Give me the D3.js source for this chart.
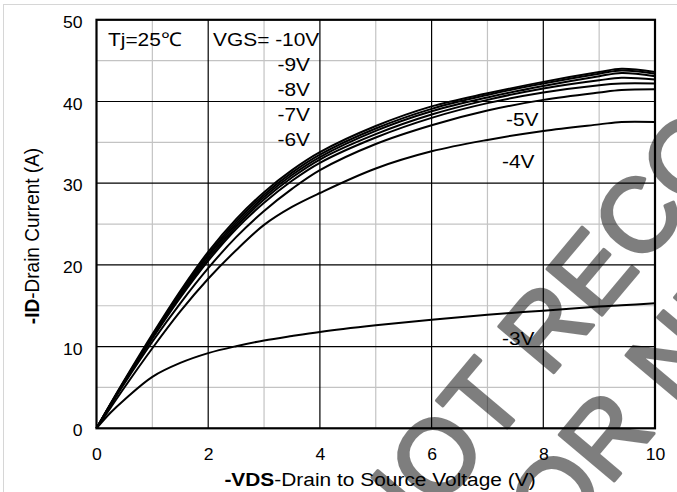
<!DOCTYPE html>
<html>
<head>
<meta charset="utf-8">
<script src="https://cdn.jsdelivr.net/npm/d3@7"></script>
<style>
  body { margin: 0; background: #fff; }
  svg { display: block; font-family: "Liberation Sans", Arial, sans-serif; }
</style>
</head>
<body>
<svg id="chart"></svg>
<script>
// -VDS sample points (V)
const vds = [0, 0.25, 0.5, 1, 1.5, 2, 2.5, 3, 3.5, 4, 5, 6, 7, 8, 9, 9.4, 10];

// -ID (A) for each gate voltage
const id10 = [0, 3.0, 5.9, 11.5, 16.8, 21.6, 25.6, 28.9, 31.6, 33.8, 37.0, 39.4, 41.0, 42.4, 43.6, 44.0, 43.6];
const id9  = [0, 2.95, 5.8, 11.3, 16.6, 21.3, 25.3, 28.6, 31.3, 33.5, 36.7, 39.1, 40.8, 42.2, 43.4, 43.8, 43.4];
const id8  = [0, 2.9, 5.8, 11.2, 16.4, 21.1, 25.0, 28.3, 31.0, 33.2, 36.4, 38.8, 40.5, 41.9, 43.1, 43.5, 43.1];
const id7  = [0, 2.9, 5.7, 11.1, 16.2, 20.8, 24.7, 28.0, 30.7, 32.9, 36.0, 38.4, 40.2, 41.6, 42.6, 42.9, 42.7];
const id6  = [0, 2.85, 5.7, 11.0, 16.0, 20.5, 24.4, 27.6, 30.3, 32.5, 35.6, 38.0, 39.8, 41.1, 42.0, 42.2, 42.2];
const id5  = [0, 2.8, 5.5, 10.6, 15.3, 19.6, 23.4, 26.6, 29.3, 31.6, 34.8, 37.1, 38.9, 40.2, 41.1, 41.4, 41.5];
const id4  = [0, 2.5, 5.0, 9.8, 14.3, 18.3, 21.8, 24.9, 27.1, 28.8, 31.8, 33.9, 35.3, 36.4, 37.2, 37.5, 37.5];
const id3  = [0, 1.9, 3.5, 6.3, 8.0, 9.2, 10.05, 10.75, 11.3, 11.8, 12.6, 13.3, 13.9, 14.4, 14.9, 15.05, 15.3];

const allSeries = [id10, id9, id8, id7, id6, id5, id4, id3];

const xTicks = [0, 2, 4, 6, 8, 10];
const yTicks = [0, 10, 20, 30, 40, 50];
const xMinor = [1, 3, 5, 7, 9];
const yMinor = [5, 15, 25, 35, 45];

const svgWidth = 677, svgHeight = 492;
const plotL = 96.5, plotR = 655, plotT = 19.8, plotB = 428.3;
const stretch = 1.1;   // the original picture is a bit wider than tall

const svg = d3.select("#chart")
    .attr("width", svgWidth)
    .attr("height", svgHeight);

// light border of the whole picture
svg.append("rect")
    .attr("x", 3.5).attr("y", 4.5)
    .attr("width", 700).attr("height", 500)
    .attr("fill", "none")
    .attr("stroke", "#d6d6d6");

const x = d3.scaleLinear().domain([0, 10]).range([plotL, plotR]);
const y = d3.scaleLinear().domain([0, 50]).range([plotB, plotT]);

// minor grid
svg.append("g").selectAll("line")
  .data(xMinor).enter().append("line")
    .attr("x1", d => x(d)).attr("x2", d => x(d))
    .attr("y1", plotT).attr("y2", plotB)
    .attr("stroke", "#c3c3c3").attr("stroke-width", 1.2);
svg.append("g").selectAll("line")
  .data(yMinor).enter().append("line")
    .attr("y1", d => y(d)).attr("y2", d => y(d))
    .attr("x1", plotL).attr("x2", plotR)
    .attr("stroke", "#c3c3c3").attr("stroke-width", 1.2);

// major grid
svg.append("g").selectAll("line")
  .data(xTicks.slice(1, -1)).enter().append("line")
    .attr("x1", d => x(d)).attr("x2", d => x(d))
    .attr("y1", plotT).attr("y2", plotB)
    .attr("stroke", "#000").attr("stroke-width", 1.2);
svg.append("g").selectAll("line")
  .data(yTicks.slice(1, -1)).enter().append("line")
    .attr("y1", d => y(d)).attr("y2", d => y(d))
    .attr("x1", plotL).attr("x2", plotR)
    .attr("stroke", "#000").attr("stroke-width", 1.2);

// curves
const line = d3.line()
    .x((d, i) => x(vds[i]))
    .y(d => y(d))
    .curve(d3.curveCatmullRom.alpha(0.5));

svg.append("g").selectAll("path")
  .data(allSeries).enter().append("path")
    .attr("d", d => line(d))
    .attr("fill", "none")
    .attr("stroke", "#000")
    .attr("stroke-width", 2);

// frame
svg.append("rect")
    .attr("x", plotL).attr("y", plotT)
    .attr("width", plotR - plotL).attr("height", plotB - plotT)
    .attr("fill", "none")
    .attr("stroke", "#000")
    .attr("stroke-width", 2.2);

// axes (labels only)
const xAxis = svg.append("g")
    .attr("transform", "translate(0," + plotB + ")")
    .call(d3.axisBottom(x).tickValues(xTicks).tickSize(0).tickPadding(20));
const yAxis = svg.append("g")
    .attr("transform", "translate(" + plotL + ",0)")
    .call(d3.axisLeft(y).tickValues(yTicks).tickSize(0).tickPadding(14));
[xAxis, yAxis].forEach(function(a) {
  a.select(".domain").remove();
  a.selectAll("text")
    .attr("font-family", "Liberation Sans, Arial, sans-serif")
    .attr("font-size", 16)
    .attr("fill", "#000")
    .attr("transform", "scale(" + stretch + ",1)");
});
xAxis.selectAll("text").attr("x", 0);
yAxis.selectAll("text").attr("dy", "0.48em").attr("x", -14 / stretch);

// helper for stretched text
function label(px, py, txt, anchor) {
  return svg.append("text")
    .attr("transform", "translate(" + px + "," + py + ") scale(" + stretch + ",1)")
    .attr("text-anchor", anchor || "start")
    .attr("font-size", 19)
    .attr("fill", "#000")
    .text(txt);
}

label(108, 46, "Tj=25℃");
label(213, 46, "VGS= -10V");
const gateLabels = ["-9V", "-8V", "-7V", "-6V"];
gateLabels.forEach(function(t, i) { label(310, 71 + i * 25, t, "end"); });
label(506, 126, "-5V");
label(502, 168, "-4V");
label(502, 345, "-3V");

// axis titles
const xt = svg.append("text")
    .attr("transform", "translate(380,486) scale(" + stretch + ",1)")
    .attr("text-anchor", "middle")
    .attr("font-size", 19);
xt.append("tspan").attr("font-weight", "bold").text("-VDS");
xt.append("tspan").text("-Drain to Source Voltage (V)");

const yt = svg.append("text")
    .attr("transform", "translate(39,236) scale(" + stretch + ",1) rotate(-90)")
    .attr("text-anchor", "middle")
    .attr("font-size", 19);
yt.append("tspan").attr("font-weight", "bold").text("-ID");
yt.append("tspan").text("-Drain Current (A)");

// watermark, placed so that the "T" of the first line sits where it does in the picture
const wmSize = 104, wmAngle = 50;
const ca = Math.cos(wmAngle * Math.PI / 180), sa = Math.sin(wmAngle * Math.PI / 180);
const tCenter = [482, 400];
const bx = tCenter[0] + sa * 0.358 * wmSize, by = tCenter[1] + ca * 0.358 * wmSize;
const s1 = [bx - ca * 1.806 * wmSize, by + sa * 1.806 * wmSize];
const gap = 116, shift = 58;
const s2 = [s1[0] + sa * gap + ca * shift, s1[1] + ca * gap - sa * shift];
const wm = svg.append("g")
    .attr("opacity", 0.5)
    .attr("fill", "#000")
    .attr("stroke", "#000")
    .attr("stroke-width", 3.5)
    .attr("stroke-linejoin", "round")
    .attr("font-size", wmSize);
wm.append("text")
    .attr("transform", "translate(" + s1[0] + "," + s1[1] + ") rotate(" + (-wmAngle) + ")")
    .text("NOT RECOMMENDED");
wm.append("text")
    .attr("transform", "translate(" + s2[0] + "," + s2[1] + ") rotate(" + (-wmAngle) + ")")
    .text("FOR NEW DESIGN");
</script>
</body>
</html>
